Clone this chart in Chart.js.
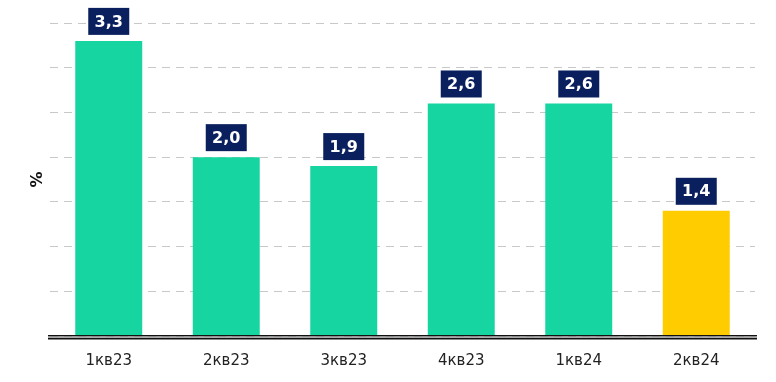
<!DOCTYPE html>
<html><head><meta charset="utf-8">
<script src="https://cdn.jsdelivr.net/npm/chart.js@4/dist/chart.umd.min.js"></script>
<style>html,body{margin:0;padding:0;background:#fff}#w{width:776px;height:382px}</style>
</head><body><div id="w"><canvas id="c"></canvas></div>
<script>
const categories = ['1кв23','2кв23','3кв23','4кв23','1кв24','2кв24'];
const values = [3.3, 2.0, 1.9, 2.6, 2.6, 1.4];
const valueLabels = ['3,3','2,0','1,9','2,6','2,6','1,4'];
const barColors = ['#17D5A0','#17D5A0','#17D5A0','#17D5A0','#17D5A0','#FFCC00'];
const yTitle = '%';

const labelPlugin = {
  id: 'labels',
  afterDatasetsDraw(chart) {
    const ctx = chart.ctx;
    const meta = chart.getDatasetMeta(0);
    const area = chart.chartArea;
    ctx.save();
    ctx.fillStyle = '#111';
    ctx.fillRect(area.left - 2, area.bottom - 1, area.right - area.left + 4, 1.5);
    ctx.fillStyle = '#aaa';
    ctx.fillRect(area.left - 2, area.bottom + 0.5, area.right - area.left + 4, 1.5);
    ctx.fillStyle = '#111';
    ctx.fillRect(area.left - 2, area.bottom + 2, area.right - area.left + 4, 1.5);
    ctx.font = 'bold 16px "DejaVu Sans"';
    ctx.textAlign = 'center';
    ctx.textBaseline = 'middle';
    meta.data.forEach((bar, i) => {
      const txt = valueLabels[i];
      const w = 41, h = 27;
      const bottom = bar.y - 6;
      ctx.fillStyle = '#0A1F5E';
      ctx.fillRect(bar.x - w / 2, bottom - h, w, h);
      ctx.fillStyle = '#fff';
      ctx.fillText(txt, bar.x, bottom - h / 2 + 1);
    });
    ctx.restore();
  }
};

new Chart(document.getElementById('c'), {
  type: 'bar',
  data: {
    labels: categories,
    datasets: [{ data: values, backgroundColor: barColors, barPercentage: 0.57, categoryPercentage: 1.0 }]
  },
  options: {
    responsive: true,
    maintainAspectRatio: false,
    animation: false,
    layout: { padding: { left: 25, right: 21, top: 23, bottom: 0 } },
    plugins: { legend: { display: false }, tooltip: { enabled: false } },
    scales: {
      x: {
        grid: { display: false, drawTicks: false },
        border: { display: false },
        ticks: { color: '#222', font: { family: 'DejaVu Sans', size: 15 }, padding: 16, maxRotation: 0 },
        afterFit(s) { s.height = 46; }
      },
      y: {
        min: 0, max: 3.5,
        ticks: { display: false, stepSize: 0.5 },
        grid: { color: '#c8c8c8', lineWidth: 1, drawTicks: false },
        border: { display: false, dash: [8, 6] },
        title: { display: true, text: yTitle, color: '#111', font: { family: 'DejaVu Sans', size: 16, weight: 'bold' }, padding: { top: 3, bottom: 3 } },
        afterFit(s) { s.width = 25; }
      }
    }
  },
  plugins: [labelPlugin]
});
</script></body></html>
